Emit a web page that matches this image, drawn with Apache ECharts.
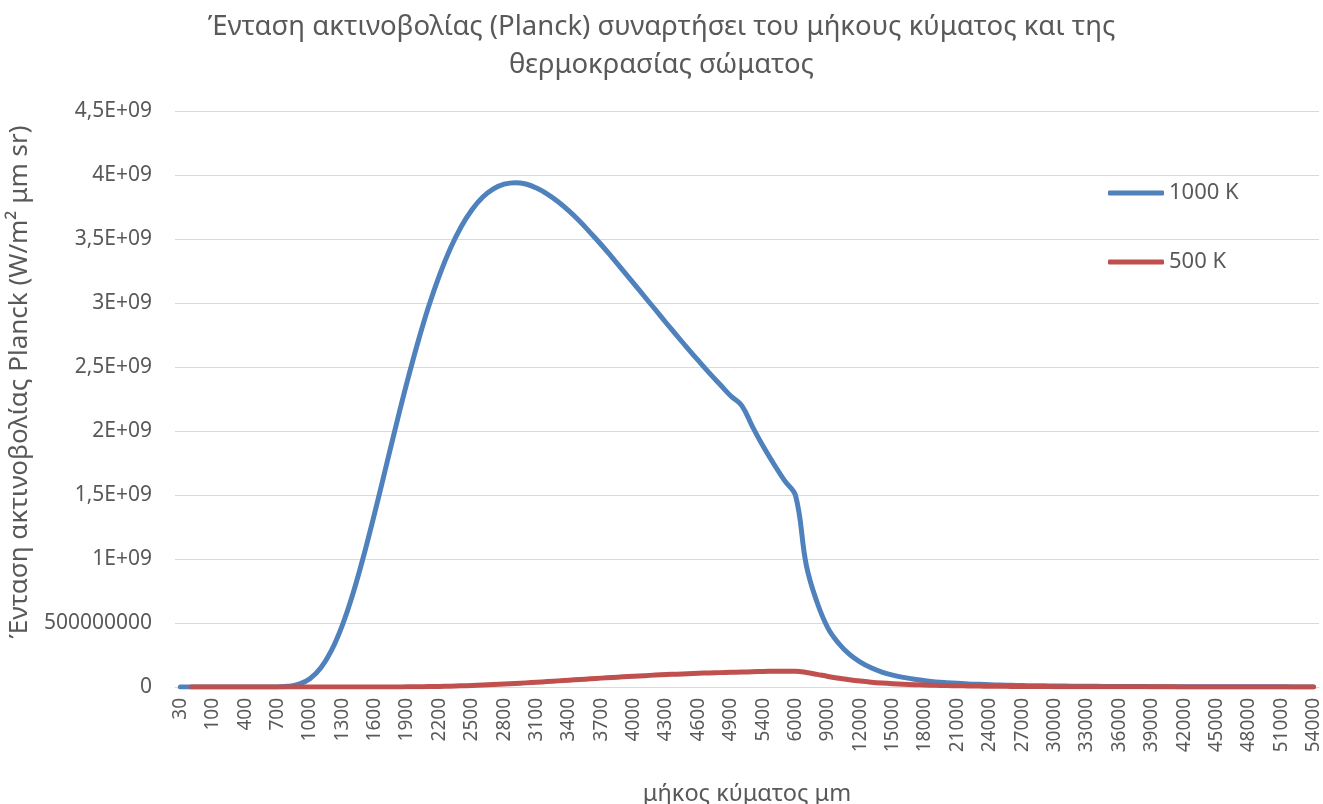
<!DOCTYPE html>
<html>
<head>
<meta charset="utf-8">
<title>Planck</title>
<script src="https://cdn.jsdelivr.net/npm/echarts@6/dist/echarts.min.js"></script>
<style>
  html, body { margin: 0; padding: 0; background: #fff; }
  #chart { width: 1323px; height: 804px; }
</style>
</head>
<body>
<div id="chart"></div>
<script>
// wavelength categories (nm values, axis says μm)
let wavelengths = [30, 50, 70,
  100, 200, 300, 400, 500, 600, 700, 800, 900, 1000,
  1100, 1200, 1300, 1400, 1500, 1600, 1700, 1800, 1900, 2000,
  2100, 2200, 2300, 2400, 2500, 2600, 2700, 2800, 2900, 3000,
  3100, 3200, 3300, 3400, 3500, 3600, 3700, 3800, 3900, 4000,
  4100, 4200, 4300, 4400, 4500, 4600, 4700, 4800, 4900, 5000,
  5200, 5400, 5600, 5800, 6000,
  7000, 8000, 9000, 10000, 11000, 12000, 13000, 14000, 15000, 16000,
  17000, 18000, 19000, 20000, 21000, 22000, 23000, 24000, 25000, 26000,
  27000, 28000, 29000, 30000, 31000, 32000, 33000, 34000, 35000, 36000,
  37000, 38000, 39000, 40000, 41000, 42000, 43000, 44000, 45000, 46000,
  47000, 48000, 49000, 50000, 51000, 52000, 53000, 54000];

// 1000 K
let values1000 = [0, 0, 0,
  0, 0, 0, 0, 1.1e3, 5.7e4, 8.1e5, 5.4e6, 2.21e7, 6.47e7,
  1.48e8, 2.86e8, 4.82e8, 7.33e8, 1.031e9, 1.359e9, 1.703e9, 2.049e9, 2.381e9, 2.691e9,
  2.972e9, 3.216e9, 3.424e9, 3.594e9, 3.727e9, 3.826e9, 3.892e9, 3.928e9, 3.940e9, 3.930e9,
  3.898e9, 3.851e9, 3.791e9, 3.719e9, 3.638e9, 3.548e9, 3.455e9, 3.356e9, 3.255e9, 3.154e9,
  3.051e9, 2.949e9, 2.846e9, 2.745e9, 2.646e9, 2.549e9, 2.454e9, 2.363e9, 2.273e9, 2.200e9,
  2.035e9, 1.880e9, 1.740e9, 1.610e9, 1.495e9,
  0.95e9, 6.6e8, 4.6e8, 3.4e8, 2.55e8, 1.95e8, 1.5e8, 1.17e8, 9.3e7, 7.5e7,
  6.0e7, 4.9e7, 4.0e7, 3.4e7, 2.9e7, 2.4e7, 2.1e7, 1.8e7, 1.5e7, 1.3e7,
  1.15e7, 1.0e7, 8.8e6, 7.8e6, 6.9e6, 6.1e6, 5.4e6, 4.9e6, 4.3e6, 3.9e6,
  3.5e6, 3.2e6, 2.9e6, 2.6e6, 2.4e6, 2.2e6, 2.0e6, 1.8e6, 1.7e6, 1.5e6,
  1.4e6, 1.3e6, 1.2e6, 1.1e6, 1.0e6, 9.6e5, 8.9e5, 8.3e5];

// 500 K (first point empty)
let values500 = [null, 0, 0,
  0, 0, 0, 0, 0, 0, 0, 0, 0, 0,
  0, 0, 5e3, 2.5e4, 7.0e4, 1.69e5, 3.59e5, 6.91e5, 1.22e6, 2.02e6,
  3.14e6, 4.64e6, 6.56e6, 8.93e6, 1.177e7, 1.506e7, 1.878e7, 2.291e7, 2.741e7, 3.221e7,
  3.724e7, 4.247e7, 4.782e7, 5.323e7, 5.866e7, 6.402e7, 6.932e7, 7.442e7, 7.939e7, 8.409e7,
  8.864e7, 9.288e7, 9.688e7, 1.005e8, 1.039e8, 1.070e8, 1.098e8, 1.123e8, 1.145e8, 1.165e8,
  1.196e8, 1.216e8, 1.228e8, 1.231e8, 1.228e8,
  1.137e8, 9.86e7, 8.27e7, 6.84e7, 5.61e7, 4.61e7, 3.79e7, 3.13e7, 2.60e7, 2.17e7,
  1.82e7, 1.54e7, 1.30e7, 1.11e7, 9.6e6, 8.2e6, 7.1e6, 6.2e6, 5.4e6, 4.8e6,
  4.2e6, 3.7e6, 3.3e6, 2.9e6, 2.6e6, 2.35e6, 2.1e6, 1.9e6, 1.7e6, 1.55e6,
  1.4e6, 1.3e6, 1.2e6, 1.1e6, 1.0e6, 9.2e5, 8.5e5, 7.9e5, 7.3e5, 6.8e5,
  6.3e5, 5.9e5, 5.5e5, 5.1e5, 4.8e5, 4.5e5, 4.2e5, 4.0e5];

// y tick labels as Excel writes them
let yTickLabels = ['0', '500000000', '1E+09', '1,5E+09', '2E+09', '2,5E+09', '3E+09', '3,5E+09', '4E+09', '4,5E+09'];

let seriesNames = ['1000 K', '500 K'];

let myChart = echarts.init(document.getElementById('chart'));
let font = 'Noto Sans';
let textColor = '#595959';

let option = {
  backgroundColor: '#fff',
  animation: false,
  title: {
    text: 'Ένταση ακτινοβολίας (Planck) συναρτήσει του μήκους κύματος και της\nθερμοκρασίας σώματος',
    left: 'center',
    top: 3,
    textStyle: {
      fontFamily: font,
      fontSize: 27.5,
      fontWeight: 'normal',
      color: textColor,
      lineHeight: 38
    }
  },
  legend: {
    orient: 'vertical',
    left: 1103,
    top: 176,
    icon: 'roundRect',
    itemWidth: 56,
    itemHeight: 5,
    itemGap: 45,
    textStyle: { fontFamily: font, fontSize: 22, color: textColor, lineHeight: 24 },
    data: seriesNames
  },
  grid: {
    left: 175,
    right: 4,
    top: 111,
    bottom: 117,
    outerBoundsMode: 'none' // keep plot area fixed
  },
  xAxis: {
    type: 'category',
    boundaryGap: true,
    data: wavelengths,
    name: 'μήκος κύματος μm',
    nameLocation: 'middle',
    nameGap: 95,
    nameTextStyle: { fontFamily: font, fontSize: 23.5, color: textColor },
    axisTick: { show: false },
    axisLine: { lineStyle: { color: '#d9d9d9', width: 1 } },
    axisLabel: {
      interval: 2, // every third category
      rotate: 90,
      margin: 11,
      fontFamily: font,
      fontSize: 19,
      color: textColor
    },
    splitLine: { show: false }
  },
  yAxis: {
    type: 'value',
    min: 0,
    max: 4.5e9,
    interval: 5e8,
    name: 'Ένταση ακτινοβολίας Planck (W/m² μm sr)',
    nameLocation: 'middle',
    nameGap: 140,
    nameTextStyle: { fontFamily: font, fontSize: 26, color: textColor, padding: [0, 0, 0, 34] },
    axisLine: { show: false },
    axisTick: { show: false },
    axisLabel: {
      margin: 23,
      fontFamily: font,
      fontSize: 21,
      color: textColor,
      formatter: function (v) {
        return yTickLabels[Math.round(v / 5e8)];
      }
    },
    splitLine: { lineStyle: { color: '#d9d9d9', width: 1 } }
  },
  series: [
    {
      name: seriesNames[0],
      type: 'line',
      data: values1000,
      symbol: 'none',
      smooth: 0.4,
      lineStyle: { color: '#4f81bd', width: 5, cap: 'round', join: 'round' },
      itemStyle: { color: '#4f81bd' }
    },
    {
      name: seriesNames[1],
      type: 'line',
      data: values500,
      symbol: 'none',
      smooth: 0.4,
      lineStyle: { color: '#c0504d', width: 5, cap: 'round', join: 'round' },
      itemStyle: { color: '#c0504d' }
    }
  ]
};

myChart.setOption(option);
</script>
</body>
</html>
